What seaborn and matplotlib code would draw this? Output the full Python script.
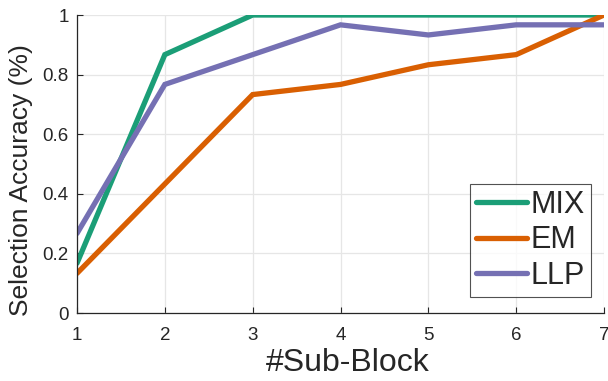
import matplotlib
matplotlib.use("Agg")
import matplotlib.pyplot as plt
import seaborn as sns
import pandas as pd

sub_blocks = [1, 2, 3, 4, 5, 6, 7]
mix = [0.167, 0.867, 1.0, 1.0, 1.0, 1.0, 1.0]
em = [0.133, 0.433, 0.733, 0.767, 0.833, 0.867, 1.0]
llp = [0.267, 0.767, 0.867, 0.967, 0.933, 0.967, 0.967]
methods = ["MIX", "EM", "LLP"]
colors = ["#1b9e77", "#d95f02", "#7570b3"]

df = pd.DataFrame({
    "block": sub_blocks * 3,
    "acc": mix + em + llp,
    "method": [m for m in methods for _ in sub_blocks],
})

sns.set_style("white")
plt.rcParams["font.family"] = ["Liberation Sans", "DejaVu Sans"]

fig = plt.figure(figsize=(6.08, 3.81), dpi=100)
ax = fig.add_axes([77 / 608, 1 - 313 / 381, (604 - 77) / 608, (313 - 15) / 381])

sns.lineplot(data=df, x="block", y="acc", hue="method", hue_order=methods,
             palette=colors, linewidth=3.8, ax=ax, legend=True,
             solid_joinstyle="miter")

ax.set_xlim(1, 7)
ax.set_ylim(0, 1)
ax.set_xticks(sub_blocks)
ax.set_yticks([0, 0.2, 0.4, 0.6, 0.8, 1])
ax.set_yticklabels(["0", "0.2", "0.4", "0.6", "0.8", "1"])
ax.grid(True, color="#e6e6e6", linewidth=0.9)
ax.set_axisbelow(True)
for side in ["top", "right"]:
    ax.spines[side].set_visible(False)
for side in ["left", "bottom"]:
    ax.spines[side].set_color("#262626")
    ax.spines[side].set_linewidth(0.9)
ax.tick_params(axis="both", direction="in", length=4, width=0.8,
               colors="#262626", labelsize=13.5, labelcolor="#262626",
               left=True, bottom=True)
ax.tick_params(axis="x", pad=10)
ax.tick_params(axis="y", pad=6)
ax.set_xlabel("#Sub-Block", fontsize=23, color="#262626")
ax.set_ylabel("Selection Accuracy (%)", fontsize=19, color="#262626")
ax.xaxis.set_label_coords(0.513, -0.117)
ax.yaxis.set_label_coords(-0.083, 0.446)

leg = ax.legend(loc="lower right", bbox_to_anchor=(0.975, 0.054), fontsize=22,
                frameon=True, fancybox=False, edgecolor="#262626",
                handlelength=1.67, handletextpad=0.1, borderpad=0.2,
                labelspacing=0.18, borderaxespad=0)
leg.get_frame().set_linewidth(0.8)
for line in leg.get_lines():
    line.set_linewidth(3.8)

fig.savefig("out.png", dpi=100)
